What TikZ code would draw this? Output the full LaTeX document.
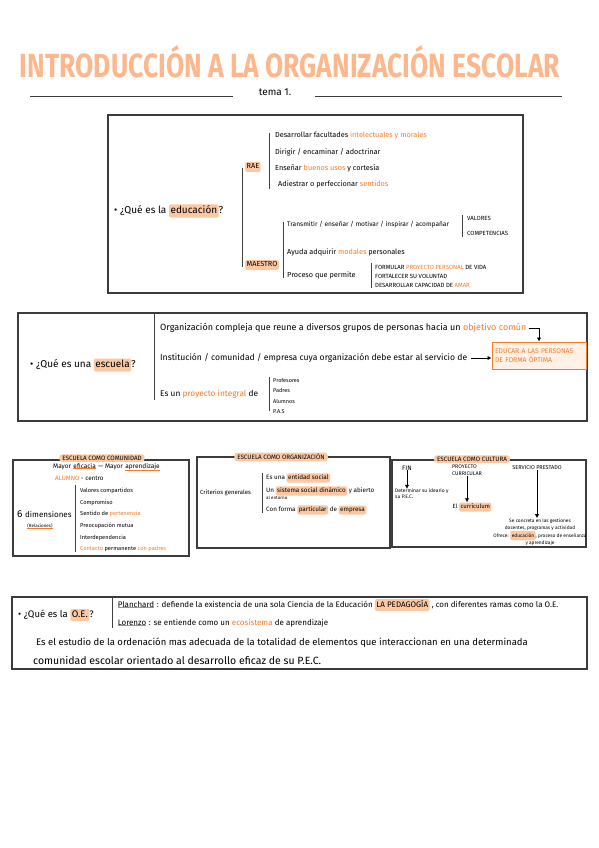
\documentclass[tikz,border=0pt]{standalone}
\usepackage{fontspec}
\usepackage{graphicx}
\setmainfont{Fira Sans}
\usetikzlibrary{arrows.meta}
\definecolor{peach}{RGB}{252,200,163}
\definecolor{orng}{RGB}{244,122,38}
\definecolor{titleor}{RGB}{252,184,140}
\definecolor{framegray}{RGB}{60,60,60}
\definecolor{boxfill}{RGB}{255,241,230}
\newcommand{\hl}[1]{\tikz[baseline=(hl.base)]\node[fill=peach,draw=none,rounded corners=2pt,inner xsep=1.5pt,inner ysep=1pt,anchor=base](hl){\strut #1};}
\newcommand{\og}[1]{\textcolor{orng}{#1}}
\newcommand{\undl}[1]{\tikz[baseline=(ul.base)]{\node[inner sep=0pt,draw=none,fill=none,anchor=base](ul){#1};\draw[orng,line width=0.8pt](ul.south west)--(ul.south east);}}
\tikzset{
  txt/.style={anchor=west, inner sep=0pt, font=\fontsize{7.3}{8}\selectfont},
  big/.style={txt, font=\fontsize{10}{11}\selectfont},
  caps/.style={txt, font=\fontsize{6}{7}\selectfont},
  frame/.style={draw=framegray, line width=1.1pt},
  brk/.style={draw=black!75, line width=0.7pt},
  arr/.style={-{Latex[length=4pt,width=4.5pt]}, line width=0.8pt},
  tag/.style={fill=peach, rounded corners=3pt, inner xsep=3pt, inner ysep=1.5pt, font=\fontsize{6.3}{7}\selectfont},
}
\begin{document}
\begin{tikzpicture}[x=1pt,y=-1pt]
\useasboundingbox (0,0) rectangle (599,848);
% titulo
\node[inner sep=0pt, text=titleor] (title) at (290,62) {\resizebox{540pt}{32pt}{\bfseries INTRODUCCIÓN A LA ORGANIZACIÓN ESCOLAR}};
\node[txt, anchor=center, font=\fontsize{10}{11}\selectfont] (tema) at (275,92) {tema 1.};
\draw[framegray, line width=1pt] (30,97) -- (233,97);
\draw[framegray, line width=1pt] (315,97) -- (562,97);

% educacion
\draw[frame] (108,115) rectangle (523,293);
\node[big] (edu) at (114,211) {• ¿Qué es la \hl{educación}?};
\draw[brk] (242,168) -- (242,267);
\node[txt] (rae) at (245,167) {\hl{RAE}};
\node[txt] (maestro) at (245,265) {\hl{MAESTRO}};
\draw[brk] (269,133) -- (269,189);
\node[txt] (rae1) at (275,135) {Desarrollar facultades \og{intelectuales y morales}};
\node[txt] (rae2) at (275,152) {Dirigir / encaminar / adoctrinar};
\node[txt] (rae3) at (275,168) {Enseñar \og{buenos usos} y cortesía};
\node[txt] (rae4) at (278,184) {Adiestrar o perfeccionar \og{sentidos}};
\draw[brk] (283,222) -- (283,278);
\node[txt, font=\fontsize{6.6}{7}\selectfont] (mae1) at (287,225) {Transmitir / enseñar / motivar / inspirar / acompañar};
\draw[brk] (462,215) -- (462,237);
\node[caps] (valores) at (467,218) {VALORES};
\node[caps] (compet) at (467,233) {COMPETENCIAS};
\node[txt] (mae2) at (287,252) {Ayuda adquirir \og{modales} personales};
\node[txt] (mae3) at (287,275) {Proceso que permite};
\draw[brk] (371,263) -- (371,288);
\node[caps] (pro1) at (375,267) {FORMULAR \og{PROYECTO PERSONAL} DE VIDA};
\node[caps] (pro2) at (375,276) {FORTALECER SU VOLUNTAD};
\node[caps] (pro3) at (375,285) {DESARROLLAR CAPACIDAD DE \og{AMAR}};

% escuela
\draw[frame] (18,313) rectangle (587,421);
\node[big] (esc) at (30,365) {• ¿Qué es una \hl{escuela}?};
\draw[brk] (154,313) -- (154,400);
\node[txt, font=\fontsize{9}{10}\selectfont] (org) at (160,328) {Organización compleja que reune a diversos grupos de personas hacia un \og{objetivo común}};
\node[txt, font=\fontsize{8.6}{9}\selectfont] (inst) at (160,358) {Institución / comunidad / empresa cuya organización debe estar al servicio de};
\node[draw=orng, line width=1pt, fill=boxfill, text=orng, minimum width=94pt, minimum height=27pt,
      inner sep=2pt, align=left, text width=88pt, font=\fontsize{6.8}{9}\selectfont] (educar) at (539,355.5)
      {EDUCAR A LAS PERSONAS\\DE FORMA ÓPTIMA};
\draw[arr] (org.east) ++(2,0) -| (educar.north);
\draw[arr] (inst.east) ++(4,0) -- (inst.east -| educar.west);
\node[txt, font=\fontsize{8.3}{9}\selectfont] (integ) at (160,394) {Es un \og{proyecto integral} de};
\draw[brk] (269,377) -- (269,411);
\node[txt, font=\fontsize{5.5}{6}\selectfont] (prof) at (273,380) {Profesores};
\node[txt, font=\fontsize{5.5}{6}\selectfont] (padres) at (273,390) {Padres};
\node[txt, font=\fontsize{5.5}{6}\selectfont] (alumnos) at (273,401) {Alumnos};
\node[txt, font=\fontsize{5.5}{6}\selectfont] (pas) at (273,412) {P.A.S};

% escuela como comunidad
\draw[frame] (13,460) rectangle (189,556);
\node[tag] (comu) at (102,458) {ESCUELA COMO COMUNIDAD};
\node[txt, font=\fontsize{6.5}{7}\selectfont] (mayor) at (53,467) {Mayor \undl{eficacia} — Mayor \undl{aprendizaje}};
\node[txt, font=\fontsize{6.3}{7}\selectfont] (alumno) at (55,478) {\og{ALUMNO} - centro};
\node[txt, font=\fontsize{8}{9}\selectfont] (dim) at (17,514) {\fontsize{10}{11}\selectfont 6 \fontsize{8}{9}\selectfont dimensiones};
\node[txt, anchor=center, font=\fontsize{4.5}{5}\selectfont] (relac) at (40,526) {\undl{(Relaciones)}};
\draw[brk] (75,485) -- (75,552);
\node[txt, font=\fontsize{5.7}{6}\selectfont] (d1) at (80,491) {Valores compartidos};
\node[txt, font=\fontsize{5.7}{6}\selectfont] (d2) at (80,503) {Compromiso};
\node[txt, font=\fontsize{5.7}{6}\selectfont] (d3) at (80,514) {Sentido de \og{pertenencia}};
\node[txt, font=\fontsize{5.7}{6}\selectfont] (d4) at (80,526) {Preocupación mutua};
\node[txt, font=\fontsize{5.7}{6}\selectfont] (d5) at (80,538) {Interdependencia};
\node[txt, font=\fontsize{5.7}{6}\selectfont] (d6) at (80,549) {\og{Contacto} permanente \og{con padres}};

% escuela como organizacion
\draw[frame] (197,457) rectangle (390,548);
\node[tag] (orga) at (281,457) {ESCUELA COMO ORGANIZACIÓN};
\node[txt, font=\fontsize{6}{7}\selectfont] (crit) at (200,493) {Criterios generales};
\draw[brk] (262,473) -- (262,513);
\node[txt, font=\fontsize{6.3}{7}\selectfont] (o1) at (266,478) {Es una \hl{entidad social}};
\node[txt, font=\fontsize{6.3}{7}\selectfont] (o2) at (266,491) {Un \hl{sistema social dinámico} y abierto};
\node[txt, font=\fontsize{4.5}{5}\selectfont] (o2b) at (266,498) {al entorno};
\node[txt, font=\fontsize{6.3}{7}\selectfont] (o3) at (266,510) {Con forma \hl{particular} de \hl{empresa}};

% escuela como cultura
\draw[frame] (392,460) rectangle (586,547);
\node[tag] (cult) at (472,459) {ESCUELA COMO CULTURA};
\node[caps, anchor=center, font=\fontsize{6.5}{7}\selectfont] (fin) at (407,468) {FIN};
\node[caps, align=left, font=\fontsize{5}{6}\selectfont] (det) at (395,494) {Determinar su ideario y\\su P.E.C.};
\draw[arr] (fin.south) -- (fin.south |- det.north);
\node[caps, anchor=center, align=left, font=\fontsize{5.3}{7}\selectfont] (pc) at (467,470) {PROYECTO\\CURRICULAR};
\node[txt, anchor=center, font=\fontsize{6}{7}\selectfont] (curr) at (472,507) {El \hl{currículum}};
\draw[arr] (pc.south) -- (pc.south |- curr.north);
\node[caps, anchor=center, font=\fontsize{5.5}{7}\selectfont] (sp) at (537,468) {SERVICIO PRESTADO};
\node[txt, anchor=center, align=center, font=\fontsize{4.8}{7.5}\selectfont] (conc) at (540,532)
  {Se concreta en las gestiones\\docentes, programas y actividad\\Ofrece: \hl{educación}, proceso de enseñanza\\y aprendizaje};
\draw[arr] (sp.south) -- (sp.south |- conc.north);

% organizacion escolar
\draw[frame] (12,597) rectangle (587,669);
\node[txt, font=\fontsize{9.5}{10}\selectfont] (oe) at (18,615) {• ¿Qué es la \hl{O.E.}?};
\draw[brk] (112,597) -- (112,628);
\node[txt, font=\fontsize{8}{9}\selectfont] (planch) at (117,605) {\undl{Planchard} : defiende la existencia de una sola Ciencia de la Educación \hl{LA PEDAGOGÍA} , con diferentes ramas como la O.E.};
\node[txt, font=\fontsize{8}{9}\selectfont] (loren) at (117,623) {\undl{Lorenzo} : se entiende como un \og{ecosistema} de aprendizaje};
\node[txt, font=\fontsize{9.5}{10}\selectfont] (def1) at (36,643) {Es el estudio de la ordenación mas adecuada de la totalidad de elementos que interaccionan en una determinada};
\node[txt, font=\fontsize{10.5}{11}\selectfont] (def2) at (33,660) {comunidad escolar orientado al desarrollo eficaz de su P.E.C.};
\end{tikzpicture}
\end{document}
